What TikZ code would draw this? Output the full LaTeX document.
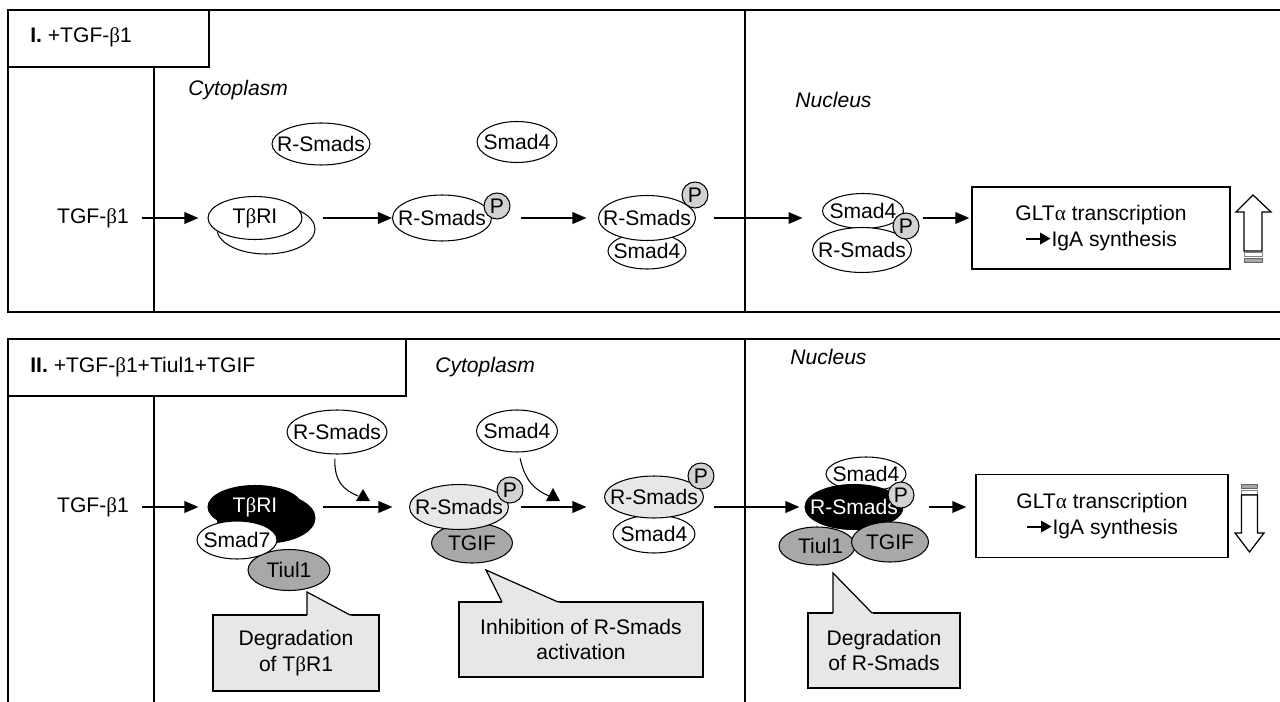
\documentclass[tikz,border=0pt]{standalone}
\usepackage{fontspec}
\setmainfont{Liberation Sans}
\newfontfamily\grk{Liberation Serif}
\usetikzlibrary{shapes.geometric,arrows.meta}
\newcommand\bt{{\grk β}}
\newcommand\al{{\grk α}}
\newcommand\zb[1]{\makebox[0pt]{#1}}
\newcommand\igarrow{\tikz[baseline={(0pt,-4.3pt)}]\draw[line width=1.1pt,-{Triangle[length=6pt,width=6.5pt]}] (0pt,0pt) -- (14pt,0pt);}
\definecolor{tgray}{RGB}{168,168,168}
\definecolor{pgray}{RGB}{210,210,210}
\definecolor{lgray}{RGB}{231,231,231}
\tikzset{
  el/.style={ellipse,draw,line width=0.6pt,inner sep=0pt,fill=white},
  pp/.style={circle,draw,line width=0.6pt,inner sep=0pt,minimum size=0.52cm,fill=pgray},
  arr/.style={line width=1.1pt,-{Triangle[length=0.28cm,width=0.23cm]}},
  frame/.style={line width=0.9pt},
  callout/.style={draw,line width=0.7pt,fill=lgray,align=center,inner sep=0pt},
  lbl/.style={inner sep=0pt},
  ital/.style={inner sep=0pt,anchor=west,font=\fontsize{12}{14.4}\selectfont\itshape},
  hollow/.style={draw,line width=0.7pt,fill=white},
  curv/.style={line width=0.6pt},
  gbox/.style={draw,line width=0.8pt,align=center,inner sep=0pt}
}
\begin{document}
\begin{tikzpicture}[x=0.02cm,y=-0.02cm,
  every node/.style={font=\fontsize{12}{14.4}\selectfont}]
\useasboundingbox (0,0) rectangle (1280,702);
\fill[white] (0,0) rectangle (1280,702);

% ---------- frames ----------
\draw[frame] (1280,10) -- (8,10) -- (8,312) -- (1280,312);
\draw[frame] (8,10) rectangle (209,67);
\draw[frame] (154,67) -- (154,312);
\draw[frame] (745,10) -- (745,312);
\draw[frame] (1280,339) -- (8,339) -- (8,702);
\draw[frame] (8,339) rectangle (406,396);
\draw[frame] (154,396) -- (154,702);
\draw[frame] (745,339) -- (745,702);

% ---------- panel I ----------
\node[lbl,anchor=west] (hA) at (30,37) {\textbf{I.} +TGF-\bt1};
\node[ital] (cytA) at (188,90) {Cytoplasm};
\node[ital] (nucA) at (795,100) {Nucleus};

\node[el,minimum width=1.96cm,minimum height=0.84cm] (rsA) at (321,144) {\zb{R-Smads}};
\node[el,minimum width=1.6cm,minimum height=0.82cm] (s4A) at (517,142) {\zb{Smad4}};
\node[lbl] (tgfA) at (93,218) {TGF-\bt1};
\node[el,minimum width=1.96cm,minimum height=1.0cm] (trbA) at (266,229) {};
\node[el,minimum width=1.88cm,minimum height=0.86cm] (trA) at (255,218) {\zb{T\bt RI}};
\node[el,minimum width=1.98cm,minimum height=0.92cm] (rsB) at (442,218) {\zb{R-Smads}};
\node[pp] (pB) at (497,206) {P};
\node[el,minimum width=1.56cm,minimum height=0.72cm] (s4C) at (647,251) {\zb{Smad4}};
\node[el,minimum width=1.94cm,minimum height=0.9cm] (rsC) at (647,218) {\zb{R-Smads}};
\node[pp] (pC) at (695,195) {P};
\node[el,minimum width=1.62cm,minimum height=0.7cm] (s4D) at (863,211) {\zb{Smad4}};
\node[el,minimum width=1.98cm,minimum height=0.9cm] (rsD) at (862,250) {\zb{R-Smads}};
\node[pp] (pD) at (906,226) {P};
\node[gbox,minimum width=5.16cm,minimum height=1.64cm] (gltA) at (1101,228) {GLT\al{} transcription\\\igarrow IgA synthesis};

\draw[arr,shorten <=0.26cm,shorten >=0.18cm] (tgfA.east) -- (trA.west);
\draw[arr,shorten <=0.4cm] (trA.east) -- (rsB.west);
\draw[arr,shorten <=0.57cm,shorten >=0.23cm] (rsB.east) -- (rsC.west);
\draw[arr,shorten <=0.35cm,shorten >=0.19cm] (rsC.east) -- (rsC.east -| rsD.west);
\draw[arr,shorten <=0.06cm,shorten >=0.04cm] (rsC.east -| pD.east) -- (rsC.east -| gltA.west);

% up hollow arrow
\draw[hollow] (1253,195) -- (1271,212) -- (1262,212) -- (1262,251) -- (1244,251) -- (1244,212) -- (1236,212) -- cycle;
\draw[line width=0.5pt,draw=gray,fill=white] (1244,252.5) rectangle (1262,256);
\draw[line width=0.5pt,draw=gray!80!black,fill=gray!70] (1244,258) rectangle (1262,262);

% ---------- panel II ----------
\node[lbl,anchor=west] (hB) at (30,367) {\textbf{II.} +TGF-\bt1+Tiul1+TGIF};
\node[ital] (cytB) at (435,367) {Cytoplasm};
\node[ital] (nucB) at (790,357) {Nucleus};

\node[el,minimum width=2.0cm,minimum height=0.88cm] (rsE) at (337,432) {\zb{R-Smads}};
\node[el,minimum width=1.62cm,minimum height=0.84cm] (s4E) at (517,431) {\zb{Smad4}};
\node[lbl] (tgfB) at (93,507) {TGF-\bt1};
\node[el,fill=black,minimum width=1.96cm,minimum height=1.0cm] (trbB) at (266,518) {};
\node[el,fill=black,minimum width=1.88cm,minimum height=0.86cm] (trB) at (255,507) {\zb{\color{white}T\bt RI}};
\node[el,fill=tgray,minimum width=1.64cm,minimum height=0.82cm] (tiE) at (289,570) {\zb{Tiul1}};
\node[el,minimum width=1.6cm,minimum height=0.76cm] (s7E) at (237,540) {\zb{Smad7}};

\node[el,fill=tgray,minimum width=1.62cm,minimum height=0.8cm] (tgF) at (472,543) {\zb{TGIF}};
\node[el,fill=lgray,minimum width=1.98cm,minimum height=0.9cm] (rsF) at (459,507) {\zb{R-Smads}};
\node[pp] (pF) at (510,490) {P};

\node[el,minimum width=1.64cm,minimum height=0.76cm] (s4G) at (654,534) {\zb{Smad4}};
\node[el,fill=lgray,minimum width=1.98cm,minimum height=0.84cm] (rsG) at (654,497) {\zb{R-Smads}};
\node[pp] (pG) at (701,476) {P};

\node[el,minimum width=1.6cm,minimum height=0.68cm] (s4H) at (866,474) {\zb{Smad4}};
\node[el,fill=black,minimum width=1.96cm,minimum height=0.9cm] (rsH) at (854,507) {\zb{\color{white}R-Smads}};
\node[el,fill=tgray,minimum width=1.52cm,minimum height=0.76cm] (tiH) at (817,546) {\zb{\hspace{4pt}Tiul1}};
\node[el,fill=tgray,minimum width=1.54cm,minimum height=0.8cm] (tgH) at (890,542) {\zb{TGIF}};
\node[pp] (pH) at (901,495) {P};

\node[gbox,minimum width=5.04cm,minimum height=1.66cm] (gltB) at (1102,516) {GLT\al{} transcription\\\igarrow IgA synthesis};

\draw[arr,shorten <=0.26cm,shorten >=0.18cm] (tgfB.east) -- (trB.west);
\draw[arr,shorten <=0.4cm,shorten >=0.33cm] (trB.east) -- (rsF.west);
\draw[arr,shorten <=0.23cm,shorten >=0.35cm] (rsF.east) -- (rsF.east -| rsG.west);
\draw[arr,shorten <=0.19cm,shorten >=0.1cm] (rsF.east -| rsG.east) -- (rsF.east -| rsH.west);
\draw[arr,shorten <=0.5cm,shorten >=0.18cm] (rsH.east) -- (rsH.east -| gltB.west);

% curved joining arrows
\coordinate (j1) at (358,496);
\coordinate (j2) at (549,496);
\draw[curv,shorten <=0.08cm] (rsE.265) .. controls (334,482) and (344,490) .. (j1);
\fill (356,501) -- (363,489) -- (370,501) -- cycle;
\draw[curv,shorten <=0.12cm] (s4E.275) .. controls (525,481) and (535,490) .. (j2);
\fill (546,501) -- (553,488) -- (560,501) -- cycle;

% callouts
\node[callout,minimum width=3.32cm,minimum height=1.52cm] (c1) at (296,653) {Degradation\\of T\bt R1};
\fill[lgray] (307,616.5) -- (307,592) -- (352.5,616.5) -- cycle;
\draw[line width=0.7pt] (307,615) -- (307,592) -- (350,615);

\node[callout,minimum width=4.88cm,minimum height=1.5cm] (c2) at (581,639.5) {Inhibition of R-Smads\\activation};
\fill[lgray] (502.7,603.5) -- (486,570) -- (561,603.5) -- cycle;
\draw[line width=0.7pt] (502,602) -- (486,570) -- (558,602);

\node[callout,minimum width=3.04cm,minimum height=1.5cm] (c3) at (884,650.5) {Degradation\\of R-Smads};
\fill[lgray] (833,614.5) -- (833,573) -- (873.5,614.5) -- cycle;
\draw[line width=0.7pt] (833,613) -- (833,573) -- (872,613);

% down hollow arrow
\draw[line width=0.5pt,draw=gray!80!black,fill=gray!70] (1241.5,484) rectangle (1257.5,488);
\draw[line width=0.5pt,draw=gray,fill=white] (1241.5,490) rectangle (1257.5,494);
\draw[hollow] (1241.5,495) -- (1257.5,495) -- (1257.5,533) -- (1264,533) -- (1249.5,552) -- (1235,533) -- (1241.5,533) -- cycle;
\end{tikzpicture}
\end{document}
